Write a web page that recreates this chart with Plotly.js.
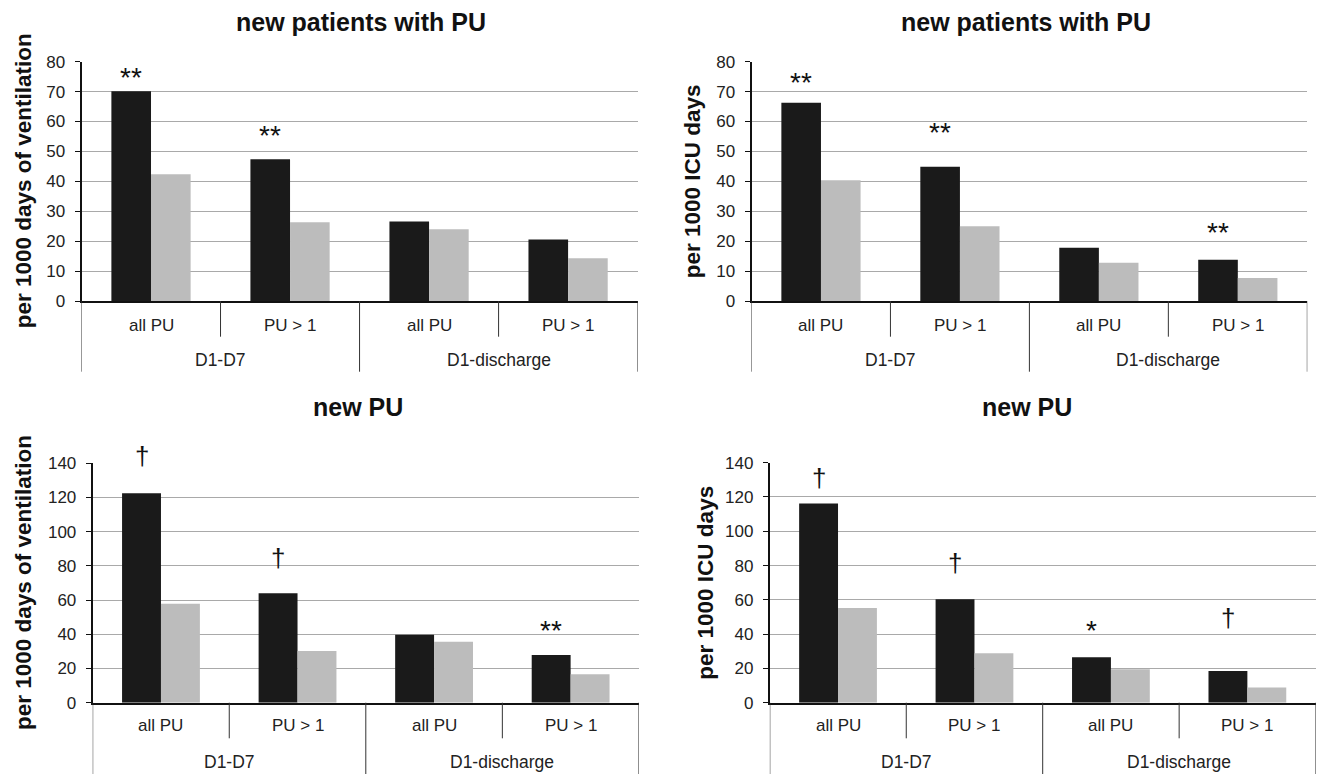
<!DOCTYPE html>
<html>
<head>
<meta charset="utf-8">
<script src="https://cdn.plot.ly/plotly-3.0.1.min.js"></script>
<style>html,body{margin:0;padding:0;background:#fff;}#chart{width:1317px;height:774px;}</style>
</head>
<body>
<div id="chart"></div>
<script>
// ---------------- data ----------------
const categories = ["all PU", "PU > 1", "all PU", "PU > 1"];
const groups = ["D1-D7", "D1-D7", "D1-discharge", "D1-discharge"];

const titleTop = "new patients with PU";
const titleBottom = "new PU";
const yTitleVent = "per 1000 days of ventilation";
const yTitleIcu = "per 1000 ICU days";

// top-left: new patients with PU, per 1000 days of ventilation
const ventPatientsDark = [70.1, 47.4, 26.6, 20.6];
const ventPatientsLight = [42.4, 26.3, 24.0, 14.3];
const ventPatientsSig = ["**", "**", "", ""];
const ventPatientsSigY = [76.2, 56.6, null, null];

// top-right: new patients with PU, per 1000 ICU days
const icuPatientsDark = [66.3, 44.9, 17.8, 13.8];
const icuPatientsLight = [40.4, 25.0, 12.8, 7.7];
const icuPatientsSig = ["**", "**", "", "**"];
const icuPatientsSigY = [74.5, 57.8, null, 24.2];

// bottom-left: new PU, per 1000 days of ventilation
const ventPUDark = [122.5, 64.0, 39.8, 27.9];
const ventPULight = [57.9, 30.2, 35.7, 16.6];
const ventPUSig = ["†", "†", "", "**"];
const ventPUSigY = [144.4, 84.4, null, 44.4];

// bottom-right: new PU, per 1000 ICU days
const icuPUDark = [116.2, 60.4, 26.5, 18.5];
const icuPULight = [55.2, 28.9, 19.5, 8.8];
const icuPUSig = ["†", "†", "*", "†"];
const icuPUSigY = [131.2, 81.5, 44.4, 49.3];

// ---------------- layout helpers ----------------
const W = 1317, H = 774;
const px = v => v / W;
const py = v => 1 - v / H;
const FONT = "Liberation Sans, Arial, Helvetica, sans-serif";
const DARK = "#1a1a1a", LIGHT = "#bcbcbc";
const BARGAP = 0.43;

const panels = [
  {title: titleTop, ytitle: yTitleVent, dark: ventPatientsDark, light: ventPatientsLight, sig: ventPatientsSig, sigY: ventPatientsSigY,
   x0: 81.5, x1: 637.6, y0: 61.7, y1: 301, ymax: 80, dtick: 10,
   titleX: 361, titleY: 22, ytitleX: 23, subY: 325, subEnd: 336.7, grpY: 360, grpEnd: 371.7},
  {title: titleTop, ytitle: yTitleIcu, dark: icuPatientsDark, light: icuPatientsLight, sig: icuPatientsSig, sigY: icuPatientsSigY,
   x0: 751.5, x1: 1307.3, y0: 61.7, y1: 301, ymax: 80, dtick: 10,
   titleX: 1026, titleY: 22, ytitleX: 692, subY: 325, subEnd: 336.7, grpY: 360, grpEnd: 371.7},
  {title: titleBottom, ytitle: yTitleVent, dark: ventPUDark, light: ventPULight, sig: ventPUSig, sigY: ventPUSigY,
   x0: 92.7, x1: 638.9, y0: 463.3, y1: 702.7, ymax: 140, dtick: 20,
   titleX: 358, titleY: 407, ytitleX: 23, subY: 725, subEnd: 738.3, grpY: 761.7, grpEnd: 774},
  {title: titleBottom, ytitle: yTitleIcu, dark: icuPUDark, light: icuPULight, sig: icuPUSig, sigY: icuPUSigY,
   x0: 769.8, x1: 1315.6, y0: 462.7, y1: 702.7, ymax: 140, dtick: 20,
   titleX: 1027, titleY: 407, ytitleX: 706, subY: 725, subEnd: 738.3, grpY: 761.7, grpEnd: 774}
];

const xIdx = categories.map((_, i) => i);
const traces = [];
const annotations = [];
const shapes = [];
const layout = {
  width: W, height: H,
  margin: {l: 0, r: 0, t: 0, b: 0},
  paper_bgcolor: "#fff", plot_bgcolor: "#fff",
  barmode: "group", bargap: BARGAP, bargroupgap: 0,
  showlegend: false,
  font: {family: FONT, color: "#222", size: 17}
};

panels.forEach((p, k) => {
  const n = k === 0 ? "" : String(k + 1);
  const xa = "x" + n, ya = "y" + n;
  traces.push({type: "bar", name: "dark", x: xIdx, y: p.dark, xaxis: xa, yaxis: ya,
    marker: {color: DARK, line: {width: 0}}, hoverinfo: "y"});
  traces.push({type: "bar", name: "light", x: xIdx, y: p.light, xaxis: xa, yaxis: ya,
    marker: {color: LIGHT, line: {width: 0}}, hoverinfo: "y"});

  layout["xaxis" + n] = {
    domain: [px(p.x0), px(p.x1)], anchor: ya,
    range: [-0.5, categories.length - 0.5], showgrid: false, zeroline: false,
    showline: true, linecolor: "#111", linewidth: 2,
    showticklabels: false, ticks: "", fixedrange: true
  };
  layout["yaxis" + n] = {
    domain: [py(p.y1), py(p.y0)], anchor: xa,
    range: [0, p.ymax], dtick: p.dtick, tick0: 0,
    showgrid: true, gridcolor: "#a9a9a9", gridwidth: 1,
    zeroline: false, showline: true, linecolor: "#111", linewidth: 2,
    ticks: "outside", ticklen: 5, tickcolor: "#111", tickwidth: 1,
    ticklabelstandoff: 6,
    tickfont: {family: FONT, size: 17, color: "#222"}, fixedrange: true
  };

  // panel title
  annotations.push({text: p.title, xref: "paper", yref: "paper",
    x: px(p.titleX), y: py(p.titleY),
    xanchor: "center", yanchor: "middle", showarrow: false,
    font: {family: FONT, size: 25, color: "#111", weight: "bold"}});
  // y title
  annotations.push({text: p.ytitle, xref: "paper", yref: "paper",
    x: px(p.ytitleX), y: py((p.y0 + p.y1) / 2), textangle: -90,
    xanchor: "center", yanchor: "middle", showarrow: false,
    font: {family: FONT, size: 22.5, color: "#111", weight: "bold"}});

  // category labels
  categories.forEach((c, i) => {
    annotations.push({text: c, xref: xa, yref: "paper", x: i, y: py(p.subY),
      xanchor: "center", yanchor: "middle", showarrow: false,
      font: {family: FONT, size: 17, color: "#222"}});
  });
  // group labels (centered over their categories)
  const seen = {};
  groups.forEach((g, i) => { (seen[g] = seen[g] || []).push(i); });
  Object.keys(seen).forEach(g => {
    const idx = seen[g];
    const mid = (idx[0] + idx[idx.length - 1]) / 2;
    annotations.push({text: g, xref: xa, yref: "paper", x: mid, y: py(p.grpY),
      xanchor: "center", yanchor: "middle", showarrow: false,
      font: {family: FONT, size: 17.5, color: "#222"}});
  });
  // divider lines: boundaries between categories
  for (let b = 0; b <= categories.length; b++) {
    const xb = b - 0.5;
    const isGroupEdge = b === 0 || b === categories.length || groups[b] !== groups[b - 1];
    shapes.push({type: "line", xref: xa, yref: "paper", x0: xb, x1: xb,
      y0: py(p.y1), y1: py(isGroupEdge ? p.grpEnd : p.subEnd),
      line: {color: "#333", width: 1}});
  }
  // significance marks above the dark bars (label heights mapped through the panel's value scale)
  const barW = (1 - BARGAP) / 2;
  const valToPx = v => p.y1 - (v / p.ymax) * (p.y1 - p.y0);
  p.sig.forEach((s, i) => {
    if (!s) return;
    const isDagger = s.indexOf("†") >= 0;
    annotations.push({text: s, xref: xa, yref: "paper", x: i - barW / 2, y: py(valToPx(p.sigY[i])),
      xanchor: "center", yanchor: "middle", showarrow: false,
      yshift: isDagger ? 0 : -4,
      font: {family: FONT, size: isDagger ? 26 : 28, color: "#111"}});
  });
});

layout.annotations = annotations;
layout.shapes = shapes;

Plotly.newPlot("chart", traces, layout, {staticPlot: true, displayModeBar: false});
</script>
</body>
</html>
